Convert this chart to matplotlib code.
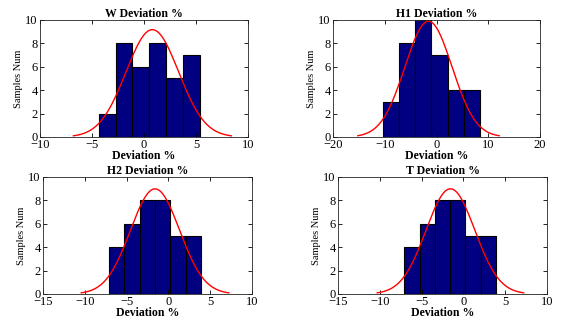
import numpy as np
import matplotlib
matplotlib.use("Agg")
import matplotlib.pyplot as plt

plt.rcParams["font.family"] = ["Liberation Serif", "DejaVu Serif"]

# histogram data (bin edges and counts)
titles = ["W Deviation %", "H1 Deviation %", "H2 Deviation %", "T Deviation %"]

w_edges = [-4.34, -2.72, -1.11, 0.51, 2.13, 3.74, 5.36]
w_counts = [2, 8, 6, 8, 5, 7]

h1_edges = [-10.37, -7.24, -4.10, -0.97, 2.17, 5.30, 8.44]
h1_counts = [3, 8, 10, 7, 4, 4]

h2_edges = [-7.12, -5.28, -3.44, -1.60, 0.24, 2.08, 3.92]
h2_counts = [4, 6, 8, 8, 5, 5]

t_edges = [-7.07, -5.24, -3.41, -1.58, 0.25, 2.07, 3.90]
t_counts = [4, 6, 8, 8, 5, 5]

# fitted normal parameters (mean, sigma) estimated from the red curves
fit_mu = [0.8, -1.55, -1.6, -1.55]
fit_sigma = [2.53, 4.55, 2.94, 2.92]

x_limits = [(-10, 10), (-20, 20), (-15, 10), (-15, 10)]
x_ticks = [[-10, -5, 0, 5, 10], [-20, -10, 0, 10, 20],
           [-15, -10, -5, 0, 5, 10], [-15, -10, -5, 0, 5, 10]]

edges_all = [w_edges, h1_edges, h2_edges, t_edges]
counts_all = [w_counts, h1_counts, h2_counts, t_counts]

# axes positions in figure pixels: left, right, top, bottom
W, H = 562, 321
boxes = [(40, 248, 20, 137), (333, 540, 20, 137),
         (43, 252, 177, 294), (338, 547, 177, 294)]

fig = plt.figure(figsize=(W / 100, H / 100), dpi=100)

for i in range(4):
    l, r, t, b = boxes[i]
    ax = fig.add_axes([l / W, 1 - b / H, (r - l) / W, (b - t) / H])
    edges = np.array(edges_all[i])
    counts = np.array(counts_all[i])
    widths = np.diff(edges)
    ax.bar(edges[:-1], counts, width=widths, align="edge",
           color="#000080", edgecolor="black", linewidth=0.8)

    # normal fit curve (histfit style), scaled to counts
    mu, sig = fit_mu[i], fit_sigma[i]
    xs = np.linspace(mu - 3 * sig, mu + 3 * sig, 200)
    scale = counts.sum() * widths.mean()
    ys = scale * np.exp(-0.5 * ((xs - mu) / sig) ** 2) / (sig * np.sqrt(2 * np.pi))
    ax.plot(xs, ys, color="red", linewidth=1.0)

    ax.set_xlim(*x_limits[i])
    ax.set_ylim(0, 10)
    ax.set_xticks(x_ticks[i])
    ax.set_yticks([0, 2, 4, 6, 8, 10])
    ax.tick_params(direction="in", top=True, right=True, length=3,
                   labelsize=9, pad=1.5, width=0.6)
    for s in ax.spines.values():
        s.set_linewidth(0.6)
        s.set_color("#222222")
    ax.set_title(titles[i], fontsize=8.5, fontweight="bold", pad=2)
    ax.set_xlabel("Deviation %", fontsize=8.5, fontweight="bold", labelpad=-1)
    ax.set_ylabel("Samples Num", fontsize=7.5, labelpad=2)

fig.savefig("out.png", dpi=100)
